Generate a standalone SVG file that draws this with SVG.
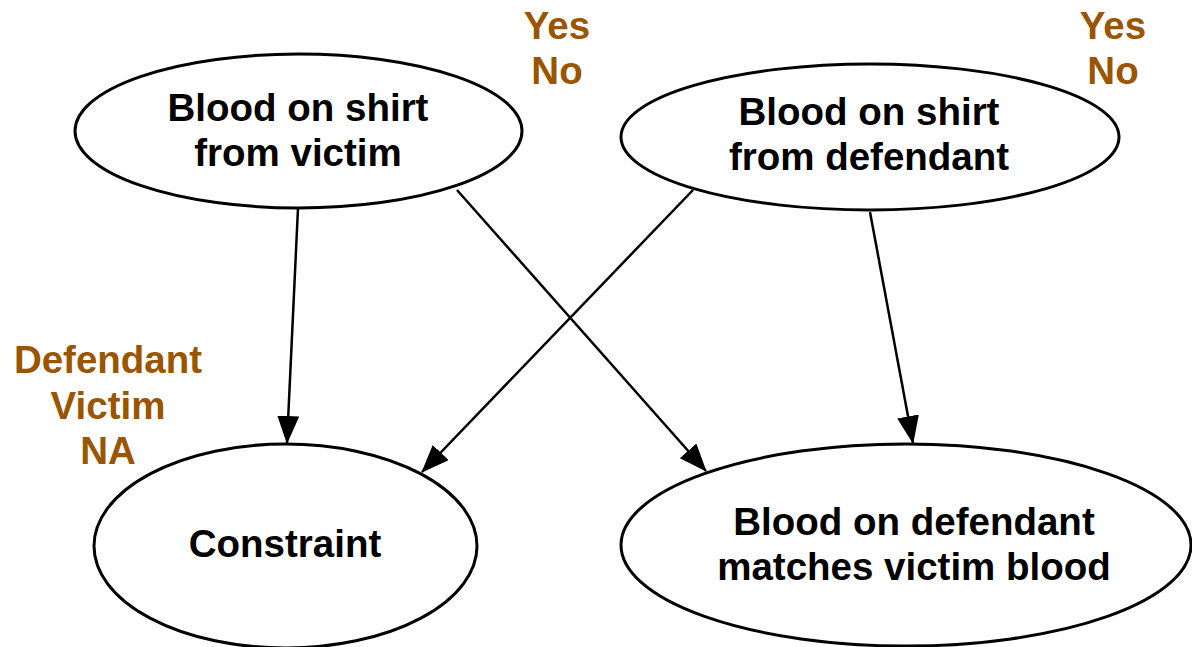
<svg xmlns="http://www.w3.org/2000/svg" width="1192" height="647" viewBox="0 0 1192 647">
  <defs>
    <style>
      .node ellipse { fill: #ffffff; stroke: #000000; stroke-width: 3; }
      .node text { font-family: "Liberation Sans", Arial, sans-serif; font-weight: bold; font-size: 38.5px; fill: #000000; text-anchor: middle; }
      .states text { font-family: "Liberation Sans", Arial, sans-serif; font-weight: bold; font-size: 38.5px; fill: #9a5500; text-anchor: middle; }
      .edge { stroke: #000000; stroke-width: 2.5; fill: none; marker-end: url(#arrow); }
    </style>
    <marker id="arrow" markerUnits="userSpaceOnUse" markerWidth="28" markerHeight="22" viewBox="0 0 28 22" refX="27" refY="11" orient="auto">
      <path d="M0,0 L28,11 L0,22 Z" fill="#000000"/>
    </marker>
  </defs>

  <!-- connectors -->
  <g id="edges">
    <line class="edge" x1="298" y1="208" x2="287" y2="443"/>
    <line class="edge" x1="457" y1="190" x2="706" y2="471"/>
    <line class="edge" x1="693" y1="190" x2="422" y2="472"/>
    <line class="edge" x1="870" y1="212" x2="913" y2="443"/>
  </g>

  <g id="node-victim" class="node">
    <ellipse cx="298.5" cy="131" rx="223.5" ry="77"/>
    <text x="298" y="121">Blood on shirt</text>
    <text x="298" y="166">from victim</text>
  </g>

  <g id="node-defendant" class="node">
    <ellipse cx="870" cy="137" rx="249" ry="73"/>
    <text x="869" y="125">Blood on shirt</text>
    <text x="869" y="170">from defendant</text>
  </g>

  <g id="node-constraint" class="node">
    <ellipse cx="285.5" cy="546" rx="191.5" ry="102"/>
    <text x="285" y="557">Constraint</text>
  </g>

  <g id="node-match" class="node">
    <ellipse cx="906" cy="545" rx="285" ry="101"/>
    <text x="914" y="535">Blood on defendant</text>
    <text x="914" y="580">matches victim blood</text>
  </g>

  <!-- state lists -->
  <g id="states-victim" class="states">
    <text x="557" y="39">Yes</text>
    <text x="557" y="84">No</text>
  </g>
  <g id="states-defendant" class="states">
    <text x="1113" y="39">Yes</text>
    <text x="1113" y="84">No</text>
  </g>
  <g id="states-constraint" class="states">
    <text x="108" y="373">Defendant</text>
    <text x="108" y="419">Victim</text>
    <text x="108" y="464">NA</text>
  </g>
</svg>
